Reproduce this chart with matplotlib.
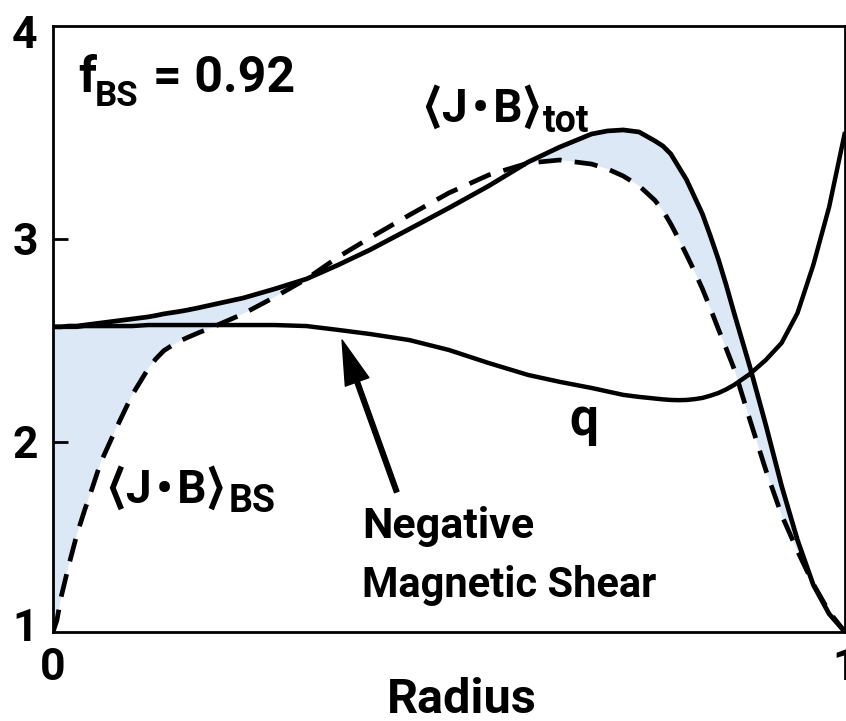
# Bootstrap current / q profile sketch - recreated with matplotlib
import matplotlib
matplotlib.use('Agg')
import matplotlib.pyplot as plt
import numpy as np

plt.rcParams['font.family'] = ['Roboto', 'Liberation Sans', 'DejaVu Sans']
plt.rcParams['font.weight'] = 'bold'

# normalized radius, shared by all three profiles
radius = [0.0, 0.005, 0.01, 0.02, 0.03, 0.04, 0.05, 0.06, 0.08, 0.10,
          0.12, 0.13, 0.14, 0.15, 0.16, 0.17, 0.185, 0.20, 0.24, 0.28,
          0.32, 0.36, 0.40, 0.45, 0.50, 0.55, 0.60, 0.64, 0.68, 0.70,
          0.72, 0.74, 0.76, 0.77, 0.78, 0.79, 0.80, 0.81, 0.82, 0.83,
          0.84, 0.85, 0.86, 0.88, 0.90, 0.92, 0.94, 0.96, 0.98, 1.00]

# <J.B>_tot (solid)
jb_tot = [2.567, 2.567, 2.567, 2.571, 2.571, 2.576, 2.581, 2.586, 2.596, 2.606,
          2.616, 2.623, 2.631, 2.637, 2.643, 2.650, 2.662, 2.675, 2.709, 2.754,
          2.803, 2.872, 2.946, 3.049, 3.153, 3.261, 3.379, 3.453, 3.517, 3.532,
          3.537, 3.527, 3.483, 3.458, 3.419, 3.355, 3.291, 3.207, 3.123, 3.015,
          2.901, 2.773, 2.635, 2.369, 2.084, 1.783, 1.517, 1.296, 1.153, 1.064]

# <J.B>_BS (dashed)
jb_bs = [1.064, 1.123, 1.232, 1.394, 1.542, 1.665, 1.778, 1.897, 2.069, 2.232,
         2.360, 2.410, 2.450, 2.475, 2.497, 2.515, 2.540, 2.563, 2.631, 2.714,
         2.803, 2.911, 3.005, 3.118, 3.227, 3.315, 3.374, 3.389, 3.369, 3.345,
         3.310, 3.262, 3.190, 3.140, 3.074, 3.000, 2.921, 2.840, 2.754, 2.658,
         2.557, 2.460, 2.360, 2.108, 1.862, 1.640, 1.463, 1.300, 1.163, 1.064]

# safety factor q
q = [2.567, 2.567, 2.567, 2.567, 2.567, 2.571, 2.571, 2.571, 2.571, 2.571,
     2.576, 2.576, 2.576, 2.576, 2.576, 2.576, 2.576, 2.576, 2.576, 2.576,
     2.571, 2.552, 2.532, 2.502, 2.453, 2.389, 2.330, 2.296, 2.266, 2.249,
     2.232, 2.222, 2.214, 2.210, 2.207, 2.206, 2.207, 2.211, 2.217, 2.228,
     2.241, 2.259, 2.281, 2.335, 2.404, 2.488, 2.635, 2.872, 3.158, 3.527]

ytick_pos = [1.10, 2, 3, 4.02]
ytick_labels = ['1', '2', '3', '4']
xtick_pos = [0, 1]
xtick_labels = ['0', '1']

x = np.array(radius)
tot = np.array(jb_tot)
bs = np.array(jb_bs)

fig = plt.figure(figsize=(8.46, 7.21), dpi=100, facecolor='white')
ax = fig.add_axes([53/846, 1 - 632/721, 792/846, 606/721])

# shaded region where total exceeds bootstrap
ax.fill_between(x, bs, tot, where=tot >= bs, interpolate=True,
                color='#dce8f5', lw=0, zorder=1)

ax.plot(x, tot, color='black', lw=3.4, solid_capstyle='butt',
        solid_joinstyle='round', zorder=3)
ax.plot(x, q, color='black', lw=3.2, solid_capstyle='butt',
        solid_joinstyle='round', zorder=3)
ax.plot(x, bs, color='black', lw=3.4, linestyle=(0, (4.9, 2.8)),
        dash_capstyle='butt', zorder=3)

ax.set_xlim(0, 1)
ax.set_ylim(1.064, 4.049)

# ticks
ax.set_yticks(ytick_pos)
ax.set_yticklabels(ytick_labels, fontsize=32, fontweight='bold')
ax.set_xticks(xtick_pos)
ax.set_xticklabels(xtick_labels, fontsize=32, fontweight='bold')
ax.tick_params(axis='y', direction='in', length=11, width=2, pad=11)
ax.tick_params(axis='x', length=0, pad=11)
yt = ax.yaxis.get_major_ticks()
yt[0].tick1line.set_visible(False)
yt[-1].tick1line.set_visible(False)

for s in ax.spines.values():
    s.set_linewidth(2)
    s.set_zorder(5)

# labels
jb = '⟨J\u200a•\u200aB⟩'
ax.text(0.032, 3.724, 'f', fontsize=36, va='baseline', ha='left')
ax.text(0.053, 3.655, 'BS', fontsize=25, va='baseline', ha='left')
ax.text(0.126, 3.724, '= 0.92', fontsize=36, va='baseline', ha='left')

ax.text(0.468, 3.576, jb, fontsize=33, va='baseline', ha='left')
ax.text(0.619, 3.527, 'tot', fontsize=27, va='baseline', ha='left')

ax.text(0.070, 1.700, jb, fontsize=33, va='baseline', ha='left')
ax.text(0.222, 1.655, 'BS', fontsize=27, va='baseline', ha='left')

ax.text(0.670, 2.034, 'q', fontsize=37, va='baseline', ha='center')

ax.text(0.390, 1.527, 'Negative', fontsize=31, va='baseline', ha='left')
ax.text(0.390, 1.236, 'Magnetic Shear', fontsize=30, va='baseline', ha='left')

ax.annotate('', xy=(0.365, 2.502), xytext=(0.434, 1.754),
            arrowprops=dict(facecolor='black', edgecolor='black', width=3.4,
                            headwidth=18, headlength=32, shrink=0),
            zorder=4)

fig.text(462/846, 1 - 713/721, 'Radius', fontsize=35, ha='center', va='baseline')

fig.savefig('out.png', dpi=100, facecolor='white')
